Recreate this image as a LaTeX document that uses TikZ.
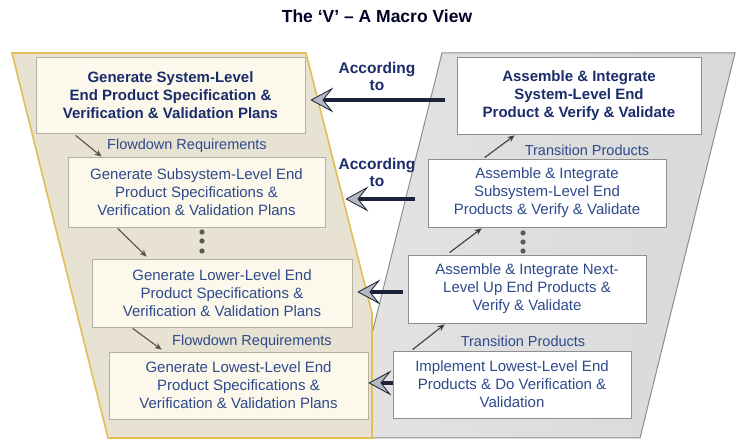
\documentclass[tikz,border=0pt]{standalone}
\usepackage{fontspec}
\setmainfont{Liberation Sans}
\usetikzlibrary{arrows.meta,shadows,calc}
\definecolor{navyb}{HTML}{1B2C6B}
\definecolor{navyr}{HTML}{2E4A8C}
\definecolor{tanfill}{HTML}{E7E2D1}
\definecolor{tanlight}{HTML}{F1EDE1}
\definecolor{gold}{HTML}{E2BE55}
\definecolor{cream}{HTML}{FCF9EC}
\definecolor{creamedge}{HTML}{B5B0A0}
\definecolor{grayedge}{HTML}{8E8E8E}
\definecolor{shaft}{HTML}{1D2238}
\definecolor{headfill}{HTML}{B4B8C2}
\definecolor{flowlc}{HTML}{5A5242}
\definecolor{flowrc}{HTML}{3C3C3C}
\begin{document}
\begin{tikzpicture}[x=1pt,y=-1pt,
  lbox/.style={draw=creamedge, fill=cream, line width=0.8pt, align=center, text=navyr,
    font=\fontsize{15}{18}\selectfont, inner sep=0pt,
    drop shadow={shadow xshift=1.2pt, shadow yshift=-1.2pt, opacity=0.3}},
  rbox/.style={lbox, draw=grayedge, fill=white},
  boldtext/.style={text=navyb, font=\bfseries\fontsize{15}{18}\selectfont},
  lbl/.style={inner sep=0pt, text=navyr, font=\fontsize{14.5}{17}\selectfont},
  acc/.style={inner sep=0pt, align=center, text=navyb, font=\bfseries\fontsize{15.5}{17}\selectfont},
  lflow/.style={draw=flowlc, line width=1.1pt, -{Stealth[length=7pt,width=6pt]}},
  rflow/.style={draw=flowrc, line width=1.1pt, -{Stealth[length=7pt,width=6pt]}},
  big/.style={line width=4pt, draw=shaft,
    -{Stealth[length=23pt,width=25pt,inset=10pt,line width=0.8pt,fill=headfill,color=shaft]}},
]
\useasboundingbox (0,0) rectangle (737,443);
\fill[white] (0,0) rectangle (737,443);

% panels
\draw[grayedge, line width=1pt, left color=black!11, middle color=black!5, right color=black!15]
  (442,53) -- (735,53) -- (640,438) -- (346,438) -- cycle;
\draw[gold, line width=1.6pt, left color=tanfill, middle color=tanlight, right color=tanfill]
  (12,53) -- (306,53) -- (372,313) -- (372,438) -- (108,438) -- cycle;

% title
\node[inner sep=0pt, font=\bfseries\fontsize{17.5}{20}\selectfont, text=black!85!blue] (title) at (377,16) {The ‘V’ – A Macro View};

% left boxes
\node[lbox, boldtext, minimum width=269pt, minimum height=76pt] (l1) at (170.5,95)
  {Generate System-Level\\End Product Specification \&\\Verification \& Validation Plans};
\node[lbox, minimum width=257pt, minimum height=70pt] (l2) at (196.5,192)
  {Generate Subsystem-Level End\\Product Specifications \&\\Verification \& Validation Plans};
\node[lbox, minimum width=260pt, minimum height=68pt] (l3) at (222,293)
  {Generate Lower-Level End\\Product Specifications \&\\Verification \& Validation Plans};
\node[lbox, minimum width=259pt, minimum height=67pt] (l4) at (238.5,385.5)
  {Generate Lowest-Level End\\Product Specifications \&\\Verification \& Validation Plans};

% right boxes
\node[rbox, boldtext, minimum width=244pt, minimum height=77pt] (r1) at (579,95.5)
  {Assemble \& Integrate\\System-Level End\\Product \& Verify \& Validate};
\node[rbox, minimum width=238pt, minimum height=68pt] (r2) at (547,193)
  {Assemble \& Integrate\\Subsystem-Level End\\Products \& Verify \& Validate};
\node[rbox, minimum width=238pt, minimum height=68pt] (r3) at (527,289)
  {Assemble \& Integrate Next-\\Level Up End Products \&\\Verify \& Validate};
\node[rbox, minimum width=238pt, minimum height=67pt] (r4) at (512,384.5)
  {Implement Lowest-Level End\\Products \& Do Verification \&\\Validation};

% labels
\node[lbl] (fr1) at (187,146) {Flowdown Requirements};
\node[lbl] (fr2) at (252,342) {Flowdown Requirements};
\node[lbl] (tp1) at (587,150) {Transition Products};
\node[lbl] (tp2) at (523,341) {Transition Products};
\node[acc] (ac1) at (377,76) {According\\to};
\node[acc] (ac2) at (377,172) {According\\to};

% dots
\foreach \yy in {232,241,251} \fill[black!65] (202,\yy) circle (2.6);
\foreach \yy in {233,242,251} \fill[black!65] (523,\yy) circle (2.6);

% flow arrows
\draw[lflow] ([xshift=40pt,yshift=-2pt]l1.south west) -- ([xshift=34pt]l2.north west);
\draw[lflow] ([xshift=50pt,yshift=-1pt]l2.south west) -- ([xshift=55pt,yshift=2pt]l3.north west);
\draw[lflow] ([xshift=41pt,yshift=-1pt]l3.south west) -- ([xshift=53pt,yshift=2pt]l4.north west);
\draw[rflow] ([xshift=57pt,yshift=1pt]r2.north west) -- ([xshift=58pt,yshift=-1pt]r1.south west);
\draw[rflow] ([xshift=42pt,yshift=2pt]r3.north west) -- ([xshift=54pt,yshift=-1pt]r2.south west);
\draw[rflow] ([xshift=20pt,yshift=1pt]r4.north west) -- ([xshift=37pt,yshift=-1pt]r3.south west);

% big arrows
\coordinate (y1) at (0,100);
\coordinate (y2) at (0,199);
\coordinate (y3) at (0,292);
\coordinate (y4) at (0,383);
\draw[big, shorten <=12pt, shorten >=5pt] (r1.west |- y1) -- (l1.east |- y1);
\draw[big, shorten <=13pt, shorten >=20pt] (r2.west |- y2) -- (l2.east |- y2);
\draw[big, shorten <=5pt, shorten >=5pt] (r3.west |- y3) -- (l3.east |- y3);
\draw[big] (r4.west |- y4) -- (l4.east |- y4);
\end{tikzpicture}
\end{document}
